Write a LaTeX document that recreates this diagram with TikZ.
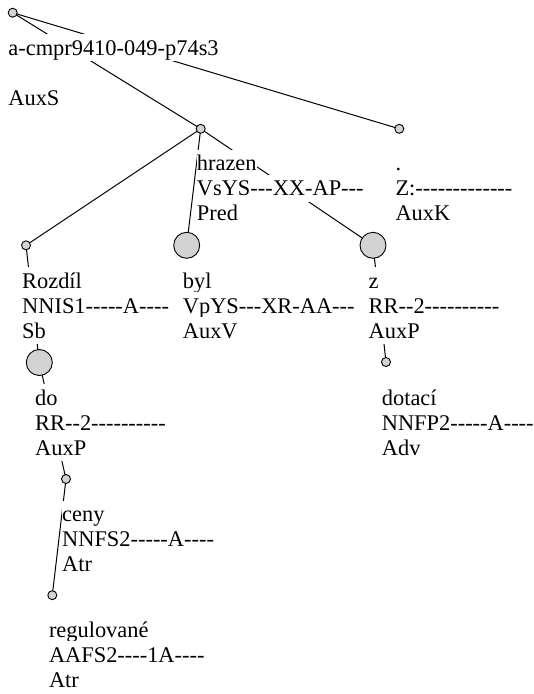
\documentclass[tikz,border=0pt]{standalone}
\usepackage{fontspec}
\setmainfont{Liberation Serif}[Ligatures=TeXOff]
\definecolor{nodegray}{RGB}{211,211,211}
\tikzset{
  small/.style={circle, draw=black, fill=nodegray, line width=0.9pt, inner sep=0pt, minimum size=9pt},
  big/.style={circle, draw=black, fill=nodegray, line width=0.9pt, inner sep=0pt, minimum size=26pt},
  edge/.style={draw=black, line width=1pt},
  lbl/.style={anchor=base west, fill=white, inner sep=0pt, text height=21pt, text depth=6pt,
    font=\fontsize{22.4pt}{25pt}\selectfont}
}
\begin{document}
\begin{tikzpicture}[x=1pt,y=-1pt]
\useasboundingbox (0,0) rectangle (534,694);
% node positions
\coordinate (pRoot) at (12.7,12.7);
\coordinate (pHr) at (200.7,128.8);
\coordinate (pDot) at (399.3,128.8);
\coordinate (pRoz) at (26,245.3);
\coordinate (pByl) at (186.7,245.3);
\coordinate (pZ) at (373,245.3);
\coordinate (pDo) at (39.3,362.5);
\coordinate (pDot2) at (386,362);
\coordinate (pCeny) at (66,479);
\coordinate (pReg) at (52.3,595.2);
% edges
\draw[edge] (pRoot) -- (pHr);
\draw[edge] (pRoot) -- (pDot);
\draw[edge] (pHr) -- (pRoz);
\draw[edge] (pHr) -- (pByl);
\draw[edge] (pHr) -- (pZ);
\draw[edge] (pRoz) -- (pDo);
\draw[edge] (pDo) -- (pCeny);
\draw[edge] (pCeny) -- (pReg);
\draw[edge] (pZ) -- (pDot2);
% labels
\node[lbl] (lRoot1) at ([shift={(-4.5,42.3)}]pRoot) {a-cmpr9410-049-p74s3};
\node[lbl] (lRoot3) at ([shift={(-4.5,92.3)}]pRoot) {AuxS};
\node[lbl] (lHr1) at ([shift={(-4,42)}]pHr) {hrazen};
\node[lbl] (lHr2) at ([shift={(-4,67)}]pHr) {VsYS---XX-AP---};
\node[lbl] (lHr3) at ([shift={(-4,92)}]pHr) {Pred};
\node[lbl] (lDot1) at ([shift={(-4,42)}]pDot) {.};
\node[lbl] (lDot2) at ([shift={(-4,67)}]pDot) {Z:-------------};
\node[lbl] (lDot3) at ([shift={(-4,92)}]pDot) {AuxK};
\node[lbl] (lRoz1) at ([shift={(-4,43)}]pRoz) {Rozdíl};
\node[lbl] (lRoz2) at ([shift={(-4,68)}]pRoz) {NNIS1-----A----};
\node[lbl] (lRoz3) at ([shift={(-4,93)}]pRoz) {Sb};
\node[lbl] (lByl1) at ([shift={(-4,43)}]pByl) {byl};
\node[lbl] (lByl2) at ([shift={(-4,68)}]pByl) {VpYS---XR-AA---};
\node[lbl] (lByl3) at ([shift={(-4,93)}]pByl) {AuxV};
\node[lbl] (lZ1) at ([shift={(-4.5,43)}]pZ) {z};
\node[lbl] (lZ2) at ([shift={(-4.5,68)}]pZ) {RR--2----------};
\node[lbl] (lZ3) at ([shift={(-4.5,93)}]pZ) {AuxP};
\node[lbl] (lDo1) at ([shift={(-4.3,42.5)}]pDo) {do};
\node[lbl] (lDo2) at ([shift={(-4.3,67.5)}]pDo) {RR--2----------};
\node[lbl] (lDo3) at ([shift={(-4.3,92.5)}]pDo) {AuxP};
\node[lbl] (lDt1) at ([shift={(-4.3,43)}]pDot2) {dotací};
\node[lbl] (lDt2) at ([shift={(-4.3,68)}]pDot2) {NNFP2-----A----};
\node[lbl] (lDt3) at ([shift={(-4.3,93)}]pDot2) {Adv};
\node[lbl] (lCe1) at ([shift={(-4,42.5)}]pCeny) {ceny};
\node[lbl] (lCe2) at ([shift={(-4,67.5)}]pCeny) {NNFS2-----A----};
\node[lbl] (lCe3) at ([shift={(-4,92.5)}]pCeny) {Atr};
\node[lbl] (lRe1) at ([shift={(-3.5,41.8)}]pReg) {regulované};
\node[lbl] (lRe2) at ([shift={(-3.5,66.8)}]pReg) {AAFS2----1A----};
\node[lbl] (lRe3) at ([shift={(-3.5,91.8)}]pReg) {Atr};
% circles
\node[small] (root) at (pRoot) {};
\node[small] (hr) at (pHr) {};
\node[small] (dot) at (pDot) {};
\node[small] (roz) at (pRoz) {};
\node[big] (byl) at (pByl) {};
\node[big] (z) at (pZ) {};
\node[big] (do) at (pDo) {};
\node[small] (dot2) at (pDot2) {};
\node[small] (ceny) at (pCeny) {};
\node[small] (reg) at (pReg) {};
\end{tikzpicture}
\end{document}
